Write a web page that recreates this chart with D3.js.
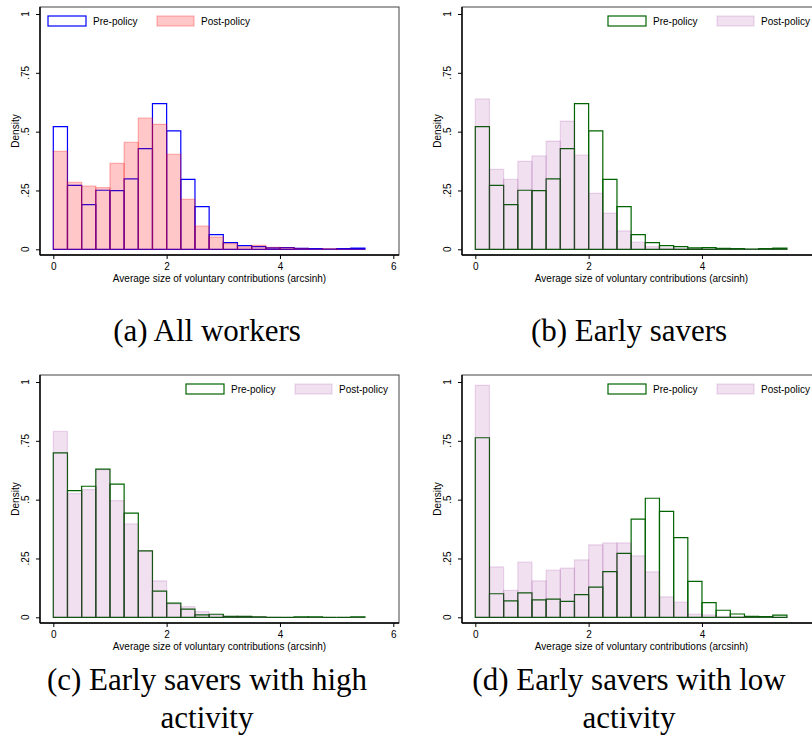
<!DOCTYPE html>
<html>
<head>
<meta charset="utf-8">
<script src="https://cdn.jsdelivr.net/npm/d3@7"></script>
<style>
  body { margin: 0; background: #fff; }
  svg { display: block; }
  .tick text { font-family: "Liberation Sans", Arial, sans-serif; font-size: 10px; fill: #000; }
</style>
</head>
<body>
<svg id="fig" width="812" height="739"></svg>
<script>
// left edge of each histogram bin (width 0.25)
const binLeft = [0, 0.25, 0.5, 0.75, 1, 1.25, 1.5, 1.75, 2, 2.25, 2.5,
                 2.75, 3, 3.25, 3.5, 3.75, 4, 4.25, 4.5, 4.75, 5, 5.25];
const binWidth = 0.25;

// (a) all workers / (b) early savers share the pre-policy distribution
const allPre  = [0.521, 0.272, 0.190, 0.251, 0.249, 0.299, 0.428, 0.619, 0.503, 0.297, 0.181,
                 0.062, 0.028, 0.016, 0.011, 0.006, 0.007, 0.004, 0.003, 0.001, 0.003, 0.005];
const allPost = [0.416, 0.285, 0.269, 0.262, 0.365, 0.455, 0.558, 0.531, 0.404, 0.212, 0.099,
                 0.052, 0.024, 0.010, 0.017, 0.008, 0.007, 0.004, 0.001, 0.003, 0.001, 0];
const earlyPre  = allPre;
const earlyPost = [0.639, 0.340, 0.297, 0.374, 0.397, 0.460, 0.545, 0.400, 0.238, 0.154, 0.078,
                   0.031, 0.011, 0.006, 0.004, 0.003, 0.002, 0.002, 0.001, 0.001, 0.001, 0.001];
// (c) high activity
const highPre  = [0.699, 0.538, 0.557, 0.630, 0.566, 0.443, 0.282, 0.111, 0.060, 0.035, 0.010,
                  0.013, 0.004, 0.004, 0.002, 0, 0, 0.002, 0.002, 0, 0, 0.002];
const highPost = [0.790, 0.526, 0.543, 0.627, 0.496, 0.397, 0.282, 0.155, 0.057, 0.045, 0.024,
                  0.010, 0.004, 0.004, 0.003, 0.001, 0, 0, 0, 0, 0, 0];
// (d) low activity
const lowPre  = [0.763, 0.100, 0.070, 0.104, 0.074, 0.077, 0.068, 0.096, 0.128, 0.194, 0.272,
                 0.417, 0.506, 0.450, 0.339, 0.153, 0.062, 0.030, 0.014, 0.004, 0.003, 0.009];
const lowPost = [0.986, 0.214, 0.115, 0.235, 0.155, 0.201, 0.209, 0.244, 0.308, 0.316, 0.316,
                 0.261, 0.193, 0.087, 0.065, 0.014, 0.010, 0.004, 0.003, 0.001, 0.001, 0.001];

const xTicks = [0, 2, 4, 6];
const yTicks = [0, 0.25, 0.5, 0.75, 1];
const yTickLabels = ["0", ".25", ".5", ".75", "1"];
const legendLabels = ["Pre-policy", "Post-policy"];
const xTitle = "Average size of voluntary contributions (arcsinh)";
const yTitle = "Density";

const panels = [
  { ox: 0,   oy: 0,   pre: allPre,   post: allPost,   theme: "red",    legend: "left",
    caption: ["(a) All workers"] },
  { ox: 422, oy: 0,   pre: earlyPre, post: earlyPost, theme: "purple", legend: "right",
    caption: ["(b) Early savers"] },
  { ox: 0,   oy: 368, pre: highPre,  post: highPost,  theme: "purple", legend: "right",
    caption: ["(c) Early savers with high", "activity"] },
  { ox: 422, oy: 368, pre: lowPre,   post: lowPost,   theme: "purple", legend: "right",
    caption: ["(d) Early savers with low", "activity"] }
];

const themes = {
  red:    { preStroke: "#0000ff", postFill: "#ff0000", postFillOp: 0.22, postStrokeOp: 0.28 },
  purple: { preStroke: "#006400", postFill: "#800080", postFillOp: 0.12, postStrokeOp: 0.14 }
};

const W = 812;
const svg = d3.select("#fig");

function barPath(x, y, x0, v) {
  const left = x(x0), right = x(x0 + binWidth);
  const base = y(0), top = y(v);
  return `M${left},${base}V${top}H${right}V${base}Z`;
}

panels.forEach(p => {
  const t = themes[p.theme];
  const g = svg.append("g").attr("transform", `translate(${p.ox},${p.oy})`);

  const frame = { left: 40, right: 399, top: 7, bottom: 255 };

  const x = d3.scaleLinear().domain([0, 6]).range([53.3, 393.3]);
  const y = d3.scaleLinear().domain([0, 1]).range([249.3, 14]);

  // plot region frame
  g.append("rect")
    .attr("x", frame.left).attr("y", frame.top)
    .attr("width", frame.right - frame.left).attr("height", frame.bottom - frame.top)
    .attr("fill", "none").attr("stroke", "#444").attr("stroke-width", 1);

  // pre-policy bars (outline)
  g.append("g").selectAll("path")
    .data(p.pre)
    .join("path")
    .attr("d", (v, i) => barPath(x, y, binLeft[i], v))
    .attr("fill", "none")
    .attr("stroke", t.preStroke)
    .attr("stroke-width", 1.2);

  // post-policy bars (translucent fill on top)
  g.append("g").selectAll("path")
    .data(p.post)
    .join("path")
    .attr("d", (v, i) => barPath(x, y, binLeft[i], v))
    .attr("fill", t.postFill).attr("fill-opacity", t.postFillOp)
    .attr("stroke", t.postFill).attr("stroke-opacity", t.postStrokeOp)
    .attr("stroke-width", 1.2);

  // x axis (ticks falling off the page are not drawn, as in the cropped figure)
  const shownX = xTicks.filter(d => p.ox + x(d) + 4 < W);
  const xAxis = g.append("g")
    .attr("transform", `translate(0,${frame.bottom})`)
    .call(d3.axisBottom(x).tickValues(shownX).tickFormat(d3.format("d")).tickSize(4).tickPadding(4));
  xAxis.select(".domain").remove();
  xAxis.selectAll(".tick line").attr("stroke", "#000");

  // y axis, labels turned vertical
  const yAxis = g.append("g")
    .attr("transform", `translate(${frame.left},0)`)
    .call(d3.axisLeft(y).tickValues(yTicks).tickFormat("").tickSize(4));
  yAxis.select(".domain").remove();
  yAxis.selectAll(".tick line").attr("stroke", "#000");
  g.append("g").selectAll("text")
    .data(yTicks)
    .join("text")
    .attr("transform", d => `translate(${frame.left - 11.5},${y(d)}) rotate(-90)`)
    .attr("text-anchor", "middle")
    .style("font-family", "Liberation Sans, Arial, sans-serif")
    .style("font-size", "10px")
    .text((d, i) => yTickLabels[i]);

  // axis lines
  g.append("line")
    .attr("x1", frame.left).attr("x2", frame.right)
    .attr("y1", frame.bottom).attr("y2", frame.bottom)
    .attr("stroke", "#000").attr("stroke-width", 1.4);
  g.append("line")
    .attr("x1", frame.left).attr("x2", frame.left)
    .attr("y1", frame.top).attr("y2", frame.bottom)
    .attr("stroke", "#000").attr("stroke-width", 1.4);

  // axis titles
  g.append("text")
    .attr("x", (frame.left + frame.right) / 2).attr("y", 282)
    .attr("text-anchor", "middle")
    .style("font-family", "Liberation Sans, Arial, sans-serif")
    .style("font-size", "10px")
    .text(xTitle);
  g.append("text")
    .attr("transform", `translate(19,${(frame.top + frame.bottom) / 2}) rotate(-90)`)
    .attr("text-anchor", "middle")
    .style("font-family", "Liberation Sans, Arial, sans-serif")
    .style("font-size", "10px")
    .text(yTitle);

  // legend
  const lx = p.legend === "left" ? frame.left + 8 : frame.right - 213;
  const ly = frame.top + 9;
  const leg = g.append("g").attr("transform", `translate(${lx},${ly})`);
  leg.append("rect").attr("x", 0).attr("y", 0).attr("width", 38).attr("height", 10)
    .attr("fill", "none").attr("stroke", t.preStroke).attr("stroke-width", 1.2);
  leg.append("rect").attr("x", 109).attr("y", 0).attr("width", 37).attr("height", 10)
    .attr("fill", t.postFill).attr("fill-opacity", t.postFillOp)
    .attr("stroke", t.postFill).attr("stroke-opacity", t.postStrokeOp).attr("stroke-width", 1.2);
  leg.selectAll("text.lab")
    .data(legendLabels)
    .join("text")
    .attr("class", "lab")
    .attr("x", (d, i) => i === 0 ? 45 : 153)
    .attr("y", 8.5)
    .style("font-family", "Liberation Sans, Arial, sans-serif")
    .style("font-size", "10px")
    .text(d => d);

  // subfigure caption
  const capY = p.oy === 0 ? 341 : 322;
  g.selectAll("text.cap")
    .data(p.caption)
    .join("text")
    .attr("class", "cap")
    .attr("x", 207)
    .attr("y", (d, i) => capY + i * 38)
    .attr("text-anchor", "middle")
    .style("font-family", "Liberation Serif, Times New Roman, serif")
    .style("font-size", "31px")
    .text(d => d);
});
</script>
</body>
</html>
